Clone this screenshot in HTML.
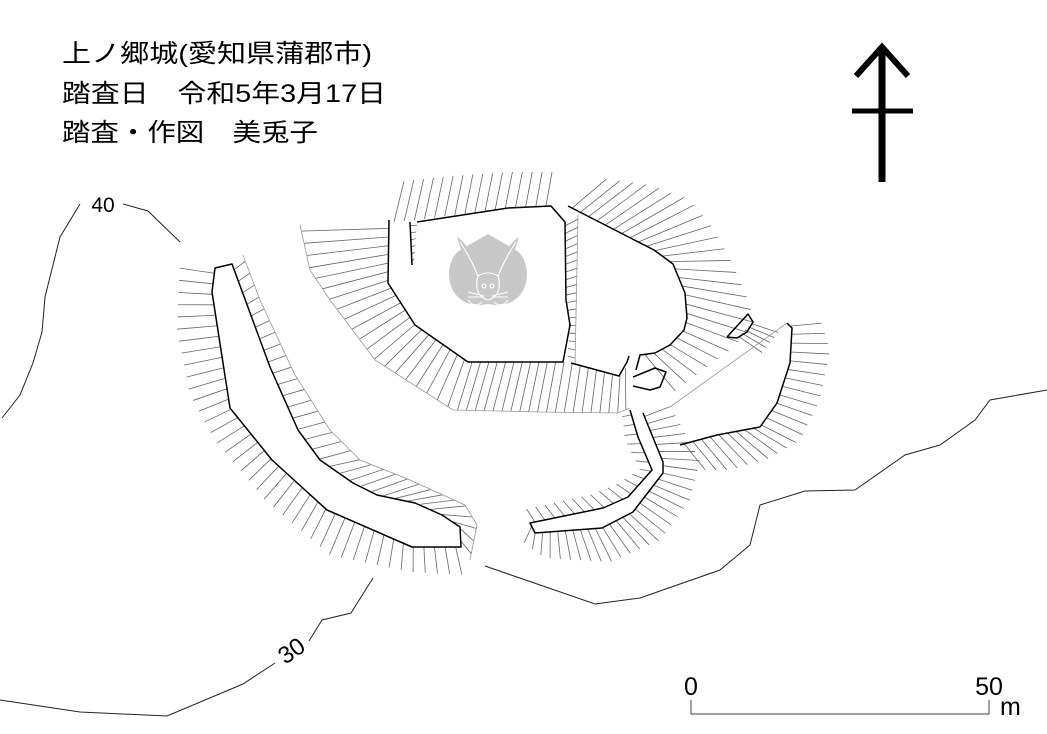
<!DOCTYPE html>
<html><head><meta charset="utf-8"><style>
html,body{margin:0;padding:0;background:#fff;}
svg{display:block}
text{font-family:"Liberation Sans","Noto Sans CJK JP",sans-serif;}
</style></head><body>
<svg id="s" width="1047" height="734" viewBox="0 0 1047 734" xmlns="http://www.w3.org/2000/svg">
<rect width="1047" height="734" fill="#fff"/>
<g font-family="'Noto Sans CJK JP',sans-serif" font-size="25" fill="#000">
<text x="62" y="62" textLength="310" lengthAdjust="spacingAndGlyphs">上ノ郷城(愛知県蒲郡市)</text>
<text x="62" y="102" textLength="324" lengthAdjust="spacingAndGlyphs">踏査日　令和5年3月17日</text>
<text x="62" y="141" textLength="256" lengthAdjust="spacingAndGlyphs">踏査・作図　美兎子</text>
</g>
<g stroke="#000" fill="none">
<line x1="882" y1="48" x2="882" y2="182" stroke-width="7"/>
<polyline points="856,76 882,47 908,76" stroke-width="6"/>
<line x1="852" y1="111" x2="913" y2="111" stroke-width="5"/>
</g>
<g stroke="#222" stroke-width="1" fill="none">
<polyline points="2,418 20,395 33,363 42,332 45,297 60,237 80,204"/>
<polyline points="123,204 148,211 180,242"/>
<polyline points="0,700 80,712 167,716 243,684 275,663"/>
<polyline points="309,641 322,620 351,613 373,578"/>
<polyline points="485,566 595,604 640,598 720,570 750,545 760,505 805,491 855,490 905,455 940,445 975,420 990,400 1047,390"/>
</g>
<text x="103" y="212" font-size="21" text-anchor="middle">40</text>
<text x="291" y="659" font-size="24" text-anchor="middle" transform="rotate(-35 291 650)">30</text>
<polyline points="691,700 691,714 989,714 989,700" stroke="#666" stroke-width="1.2" fill="none"/>
<text x="691" y="695" font-size="25" text-anchor="middle" font-family="'DejaVu Sans',sans-serif">0</text>
<text x="989" y="695" font-size="25" text-anchor="middle" font-family="'DejaVu Sans',sans-serif">50</text>
<text x="1000" y="715" font-size="25" font-family="'DejaVu Sans',sans-serif">m</text>
<g id="h" stroke="#666" stroke-width="0.8" fill="none"></g>
<g stroke="#999" stroke-width="0.8" fill="none">
<polyline points="300,225 310,270 330,300 375,360 453,410 540,412 618,413 630,408"/>
<polyline points="243,255 260,300 295,375 330,430 360,460 410,480 465,505 477,525 470,560"/>
<polyline points="670,407 787,323"/>
<polyline points="578,215 575,365"/>
</g>
<g fill="#c8c8c8">
<path d="M488,234 C478,240 470,244 464,248 C448,254 444,280 456,295 C466,306 478,306 488,304 C498,306 510,306 520,295 C532,280 528,254 512,248 C506,244 498,240 488,234 Z"/>
<path d="M457,237 C468,244 478,262 482,276 L474,278 C468,264 460,250 457,237 Z"/>
<path d="M519,237 C508,244 498,262 494,276 L502,278 C508,264 516,250 519,237 Z"/>
<g stroke="#fff" stroke-width="1.1" fill="none">
<path d="M460,242 C468,254 474,266 478,276"/>
<path d="M516,242 C508,254 502,266 498,276"/>
<path d="M478,276 C474,290 480,298 488,300 C496,298 502,290 498,276 C492,272 484,272 478,276"/>
<circle cx="484" cy="286" r="2"/><circle cx="492" cy="286" r="2"/>
<path d="M468,292 L484,296 M468,297 L484,297 M508,292 L492,296 M508,297 L492,297"/>
<path d="M468,300 C472,306 478,306 482,302 M508,300 C504,306 498,306 494,302"/>
</g>
</g>
<g stroke="#000" stroke-width="1.5" fill="none" stroke-linejoin="round">
<polyline points="417,222 508,208 551,206 565,222 566,300 570,325 563,362 468,362 415,325 388,283 389,220"/>
<polyline points="410,222 412,265"/>
<polyline points="568,206 654,250 673,264 685,293 687,318 684,330 670,345 655,353 640,355 636,370"/>
<polyline points="571,363 619,376 627,362 629,356"/>
<polygon points="215,268 232,264 270,367 298,430 320,460 353,483 377,495 415,503 442,515 460,527 461,547 412,547 327,510 272,460 230,408 212,292"/>
<polyline points="630,410 638,437 652,470 628,497 603,508 530,523 535,533 602,528 633,512 663,473 663,462 643,413"/>
<polyline points="680,445 717,435 760,427 777,403 790,363 792,328 787,323"/>
<polyline points="727,337 748,314 753,322 747,332 737,338 727,337"/>
<polyline points="633,377 655,368 666,372 660,387 650,390 633,386"/>
</g>
</svg>
<script>
(function(){
var g=document.getElementById('h');
function len(p){var L=[0];for(var i=1;i<p.length;i++){L.push(L[i-1]+Math.hypot(p[i][0]-p[i-1][0],p[i][1]-p[i-1][1]));}return L;}
function at(p,L,t){var d=t*L[L.length-1];for(var i=1;i<p.length;i++){if(d<=L[i]||i==p.length-1){var s=L[i]-L[i-1];var f=s?(d-L[i-1])/s:0;return [p[i-1][0]+f*(p[i][0]-p[i-1][0]),p[i-1][1]+f*(p[i][1]-p[i-1][1])];}}}
function h(a,b,n){var La=len(a),Lb=len(b);for(var i=0;i<n;i++){var t=(i+0.5)/n;var A=at(a,La,t),B=at(b,Lb,t);var l=document.createElementNS('http://www.w3.org/2000/svg','line');l.setAttribute('x1',A[0]);l.setAttribute('y1',A[1]);l.setAttribute('x2',B[0]);l.setAttribute('y2',B[1]);g.appendChild(l);}}
h([[389,222],[417,220],[508,208],[551,206]],[[399,182],[450,176],[510,172],[557,172]],16);
h([[389,224],[388,283],[415,325],[468,362]],[[300,225],[310,270],[330,300],[375,360],[453,410]],20);
h([[468,362],[563,362],[571,363],[619,376],[628,365]],[[453,410],[540,412],[618,413],[630,408]],20);
h([[568,206],[654,250],[673,264],[685,293],[687,318],[684,330],[670,345],[655,353],[640,355]],[[600,178],[650,185],[690,200],[713,228],[733,265],[748,300],[755,325],[730,350],[700,372],[670,395]],26);
h([[565,222],[566,300],[570,325],[567,360]],[[578,215],[577,300],[576,330],[575,362]],18);
h([[410,222],[412,265]],[[417,222],[414,262]],6);
h([[232,264],[270,367],[298,430],[320,460],[353,483],[377,495],[415,503],[442,515],[460,527],[461,547]],[[243,255],[260,300],[295,375],[330,430],[360,460],[410,480],[465,505],[477,525],[470,560]],32);
h([[215,268],[212,292],[230,408],[272,460],[327,510],[412,547],[461,547]],[[180,262],[177,330],[190,395],[215,440],[265,500],[330,555],[410,572],[468,575]],40);
h([[630,410],[638,437],[652,470],[628,497],[603,508],[530,523]],[[622,412],[625,440],[640,470],[615,485],[590,495],[522,510]],20);
h([[643,413],[663,462],[663,473],[633,512],[602,528],[535,533],[530,523]],[[668,402],[700,460],[690,500],[660,540],[610,562],[545,558],[520,540]],30);
h([[787,323],[792,328],[790,363],[777,403],[760,427],[717,435],[680,445]],[[820,318],[830,350],[820,400],[800,440],[770,458],[730,470],[700,470]],22);
h([[737,338],[753,322]],[[760,355],[780,330]],5);
})();
</script>
</body></html>
